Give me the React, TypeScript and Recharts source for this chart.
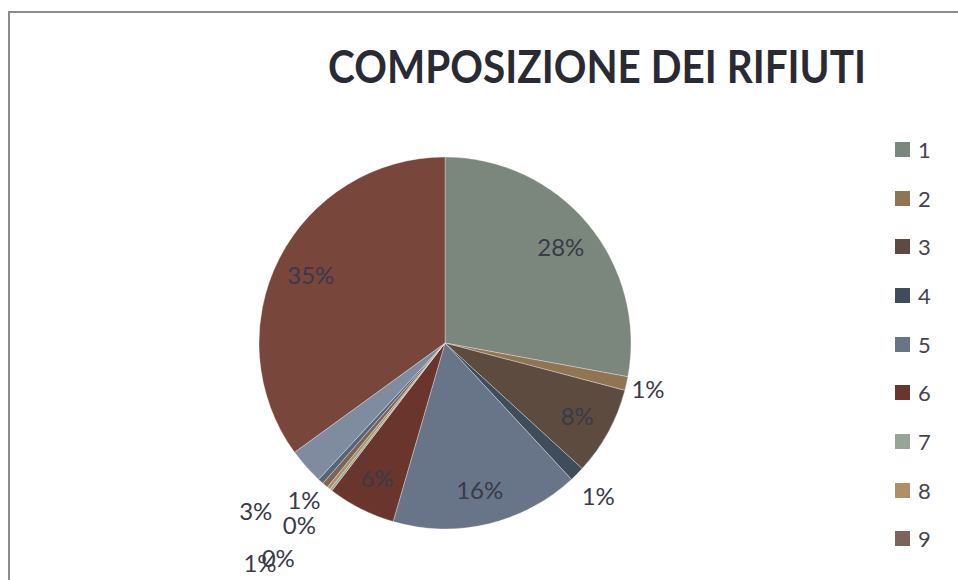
import { PieChart, Pie, Cell, Legend } from "recharts";

// categories and their share of the waste (in %)
const categories = ["1", "2", "3", "4", "5", "6", "7", "8", "9", "10", "11", "12"];
const shares = [27.9, 1.2, 7.7, 1.3, 16.4, 5.9, 0.2, 0.3, 0.5, 0.5, 3.1, 35.0];
const title = "COMPOSIZIONE DEI RIFIUTI";

const data = categories.map((name, i) => ({ name, value: shares[i] }));

const COLORS = [
  "#7b877d", "#907552", "#5e4b40", "#3f4c5b", "#687588", "#6a352d",
  "#95a598", "#b08f66", "#7b6558", "#566577", "#7f8ca0", "#79463c",
];

// how far outside the rim the small labels sit (Excel pushed them around)
const OUTSIDE_PUSH: Record<number, number> = { 1: 22, 3: 30, 6: 86, 7: 47, 8: 101, 9: 25, 10: 67 };

const FONT = "Lato, 'Open Sans', sans-serif";
const TEXT = "#3a3a48";
const RAD = Math.PI / 180;

const renderLabel = (props: any) => {
  const { cx, cy, midAngle, outerRadius, index, value } = props;
  const r = value >= 5 ? outerRadius * 0.81 : outerRadius + (OUTSIDE_PUSH[index] ?? 24);
  const x = cx + r * Math.cos(-midAngle * RAD);
  const y = cy + r * Math.sin(-midAngle * RAD);
  return (
    <text
      x={x}
      y={y}
      fill={TEXT}
      fontSize={24}
      fontFamily={FONT}
      textAnchor="middle"
      dominantBaseline="central"
    >
      {`${Math.round(value)}%`}
    </text>
  );
};

const renderLegend = (props: any) => {
  const items = [...(props.payload || [])].sort(
    (a: any, b: any) => categories.indexOf(a.value) - categories.indexOf(b.value)
  );
  return (
    <div style={{ fontFamily: FONT }}>
      {items.map((entry: any, i: number) => (
        <div key={i} style={{ height: 48.7, display: "flex", alignItems: "center" }}>
          <span style={{ width: 15, height: 15, background: entry.color, display: "inline-block", marginRight: 8 }} />
          <span style={{ fontSize: 22, color: "#444450" }}>{entry.value}</span>
        </div>
      ))}
    </div>
  );
};

export default function App() {
  return (
    <div style={{ position: "fixed", left: 0, top: 0, width: 958, height: 580, overflow: "hidden", background: "#fff" }}>
      <div
        style={{
          position: "absolute",
          left: 8,
          top: 11,
          width: 1100,
          height: 900,
          borderLeft: "2px solid #8c8c8c",
          borderTop: "2px solid #8c8c8c",
        }}
      />
      <svg width={958} height={120} style={{ position: "absolute", left: 0, top: 0 }}>
        <text
          x={328}
          y={83}
          textLength={538}
          lengthAdjust="spacingAndGlyphs"
          fontFamily={FONT}
          fontWeight={700}
          fontSize={46}
          fill="#2a2a35"
        >
          {title}
        </text>
      </svg>
      <div style={{ position: "absolute", left: 0, top: 0 }}>
        <PieChart width={958} height={580} margin={{ top: 0, right: 0, bottom: 0, left: 0 }}>
          <Pie
            data={data}
            dataKey="value"
            nameKey="name"
            cx={445}
            cy={343}
            outerRadius={186}
            startAngle={90}
            endAngle={-270}
            stroke="rgba(255,255,255,0.45)"
            strokeWidth={0.7}
            label={renderLabel}
            labelLine={false}
            isAnimationActive={false}
          >
            {data.map((d, i) => (
              <Cell key={d.name} fill={COLORS[i]} />
            ))}
          </Pie>
          <Legend
            layout="vertical"
            align="right"
            verticalAlign="top"
            content={renderLegend}
            wrapperStyle={{ position: "absolute", left: 895, top: 125, width: 60 }}
          />
        </PieChart>
      </div>
    </div>
  );
}
